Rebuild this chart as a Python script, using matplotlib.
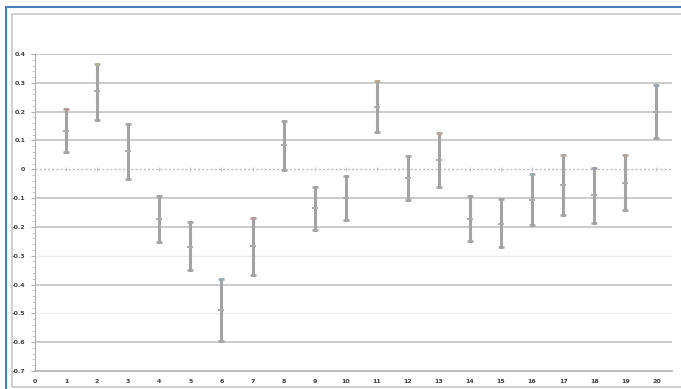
import matplotlib.pyplot as plt
from matplotlib.patches import Rectangle
from matplotlib.ticker import MultipleLocator

# point index, estimated value and error bar ends
xs = list(range(1, 21))
centers = [0.133, 0.27, 0.062, -0.172, -0.27, -0.49, -0.267, 0.083, -0.136, -0.1,
           0.216, -0.029, 0.032, -0.174, -0.189, -0.107, -0.054, -0.09, -0.048, 0.2]
highs = [0.208, 0.365, 0.157, -0.092, -0.184, -0.382, -0.17, 0.167, -0.063, -0.024,
         0.305, 0.046, 0.125, -0.094, -0.102, -0.018, 0.049, 0.004, 0.048, 0.294]
lows = [0.059, 0.171, -0.033, -0.253, -0.351, -0.597, -0.368, -0.003, -0.21, -0.177,
        0.128, -0.105, -0.062, -0.25, -0.27, -0.192, -0.157, -0.186, -0.143, 0.108]

# slight tints seen on some caps
cap_colors = ['#b89898', '#b0b09c', '#a4a4a4', '#a4a4a4', '#a4a4a4', '#9caab4', '#b49c9c',
              '#a4a4a4', '#a4a4a4', '#a4a4a4', '#b8a490', '#a4a4a4', '#b4a49c', '#a4a4a4',
              '#a4a4a4', '#9cacb0', '#b4a89c', '#9ca0ac', '#b4a49c', '#9ca4b4']

grid_levels = [0.4, 0.3, 0.2, 0.1, -0.1, -0.2, -0.3, -0.4, -0.5, -0.6]
faint_levels = [-0.3, -0.5]

fig = plt.figure(figsize=(6.81, 3.89), dpi=100)
ax = fig.add_axes([35 / 681, 18 / 389, 637 / 681, 317 / 389])

# figure frame: blue outer border and gray inner one
fig.add_artist(Rectangle((6 / 681, -0.05), 1.0, 0.05 + 382 / 389, transform=fig.transFigure,
                         fill=False, edgecolor='#4a7ebb', linewidth=1.5))
fig.add_artist(Rectangle((12 / 681, 2 / 389), 1.0, 373 / 389, transform=fig.transFigure,
                         fill=False, edgecolor='#c8c8c8', linewidth=1.2))

for lv in grid_levels:
    if lv in faint_levels:
        ax.axhline(lv, color='#ececec', linewidth=1.0, zorder=0)
    else:
        ax.axhline(lv, color='#c4c4c4', linewidth=1.2, zorder=0)
ax.axhline(0, color='#c0c0c0', linewidth=1.0, linestyle=(0, (1.5, 1.5)), zorder=0)
ax.plot(xs, [0] * len(xs), linestyle='none', marker='|', markersize=3,
        color='#c8c8c8', markeredgewidth=0.8, zorder=1)

for x, c, hi, lo, cc in zip(xs, centers, highs, lows, cap_colors):
    ax.plot([x, x], [lo, hi], color='#a4a4a4', linewidth=2.2, zorder=2)
    ax.plot([x], [hi], marker='_', markersize=5, markeredgewidth=1.8,
            color=cc, zorder=3)
    ax.plot([x], [lo], marker='_', markersize=5, markeredgewidth=1.8,
            color='#a4a4a4', zorder=3)
    ax.plot([x], [c], marker='_', markersize=5, markeredgewidth=1.4,
            color='#acacac', zorder=3)

ax.set_xlim(0, 20.5)
ax.set_ylim(-0.7, 0.4)
ax.set_xticks(range(0, 21))
ax.yaxis.set_minor_locator(MultipleLocator(0.02))
ax.set_yticks([round(-0.7 + 0.1 * i, 1) for i in range(12)])
ax.set_yticklabels(['-0.7', '-0.6', '-0.5', '-0.4', '-0.3', '-0.2', '-0.1', '0',
                    '0.1', '0.2', '0.3', '0.4'])
ax.tick_params(axis='both', labelsize=4.5, colors='#404040', pad=4)
ax.tick_params(axis='y', which='major', length=3, color='#b0b0b0')
ax.tick_params(axis='y', which='minor', length=2, color='#c0c0c0')
ax.tick_params(axis='x', length=0, pad=6)
for lbl in ax.get_xticklabels() + ax.get_yticklabels():
    lbl.set_fontweight('bold')

for s in ['top', 'right']:
    ax.spines[s].set_visible(False)
ax.spines['left'].set_color('#b0b0b0')
ax.spines['bottom'].set_color('#b0b0b0')
ax.spines['bottom'].set_linewidth(1.2)

fig.savefig('out.png', dpi=100)
